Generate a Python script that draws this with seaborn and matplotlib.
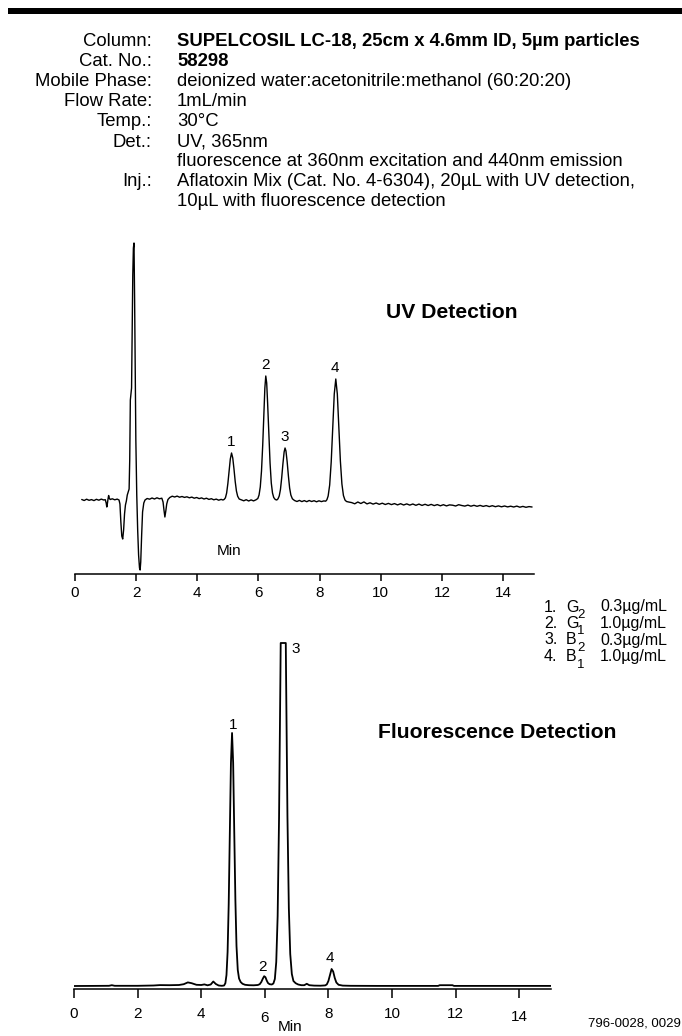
import matplotlib
matplotlib.use("Agg")
import pandas as pd
import matplotlib.pyplot as plt
import seaborn as sns
from matplotlib.patches import Rectangle
from matplotlib.transforms import ScaledTranslation

# ---- data ----
header_labels = ["Column:", "Cat. No.:", "Mobile Phase:", "Flow Rate:", "Temp.:", "Det.:", "", "Inj.:", ""]
header_values = [
    "SUPELCOSIL LC-18, 25cm x 4.6mm ID, 5\u00b5m particles",
    "58298",
    "deionized water:acetonitrile:methanol (60:20:20)",
    "1mL/min",
    "30\u00b0C",
    "UV, 365nm",
    "fluorescence at 360nm excitation and 440nm emission",
    "Aflatoxin Mix (Cat. No. 4-6304), 20\u00b5L with UV detection,",
    "10\u00b5L with fluorescence detection",
]
header_bold = [True, True, False, False, False, False, False, False, False]

# UV trace (min, signal)
uv_trace = [
    (0.22, 0.5), (0.30, -0.5), (0.38, 0.8), (0.46, -0.3), (0.54, 0.4), (0.62, -0.6),
    (0.70, 0.7), (0.78, -0.2), (0.86, 0.9), (0.94, 0.0), (0.99, 0.3),
    (1.02, -3), (1.04, -7), (1.06, -3.5), (1.08, 1), (1.10, 4.5), (1.12, 2), (1.15, 0.5),
    (1.22, 1.2), (1.30, 0.2), (1.38, 0.9), (1.44, 0.0), (1.47, -4), (1.50, -22), (1.53, -36),
    (1.56, -39), (1.59, -30), (1.62, -14), (1.65, -5), (1.68, -1), (1.71, 5), (1.74, 8),
    (1.77, 11), (1.79, 40), (1.81, 100), (1.83, 106), (1.85, 112), (1.87, 170), (1.89, 225),
    (1.91, 252), (1.93, 257), (1.95, 200), (1.97, 130), (1.99, 60), (2.02, 5), (2.05, -30),
    (2.08, -55), (2.11, -68), (2.13, -70), (2.15, -62), (2.18, -35), (2.21, -12), (2.25, -3),
    (2.29, 0), (2.36, 1.5), (2.44, 0.8), (2.52, 2.0), (2.60, 1.0), (2.68, 2.2), (2.76, 1.2),
    (2.84, 1.8), (2.88, -2), (2.91, -10), (2.94, -17), (2.97, -11), (3.00, -4), (3.04, 0.5),
    (3.10, 2.5), (3.18, 3.8), (3.26, 3.0), (3.34, 3.9), (3.42, 2.8), (3.50, 3.5), (3.58, 2.6),
    (3.66, 3.2), (3.74, 2.2), (3.82, 2.9), (3.90, 1.8), (3.98, 2.5), (4.06, 1.4), (4.14, 2.1),
    (4.22, 1.0), (4.30, 1.8), (4.38, 0.6), (4.46, 1.3), (4.54, 0.2), (4.62, 0.9), (4.70, -0.2),
    (4.78, 0.6), (4.84, 0.0),
    (4.88, 0.6), (4.92, 2.2), (4.96, 7), (5.00, 16.5), (5.04, 29), (5.08, 41), (5.12, 47),
    (5.16, 42), (5.20, 31), (5.24, 18.5), (5.28, 9), (5.32, 3.8), (5.37, 1), (5.44, 0.2),
    (5.52, -0.8), (5.60, 0.3), (5.68, -1.0), (5.76, 0.1), (5.84, -0.9), (5.92, 0.2),
    (5.98, 1.5), (6.02, 5), (6.06, 13), (6.10, 29), (6.14, 55), (6.18, 88), (6.21, 112),
    (6.24, 124), (6.27, 117), (6.30, 97), (6.34, 66), (6.38, 37), (6.42, 17), (6.46, 7),
    (6.50, 2.5), (6.55, 0.5), (6.60, 0),
    (6.64, 1.2), (6.68, 4), (6.72, 10.5), (6.76, 22), (6.80, 36), (6.84, 48), (6.87, 52),
    (6.90, 49), (6.94, 38), (6.98, 24), (7.02, 12), (7.06, 5), (7.11, 1.2), (7.18, -0.5),
    (7.26, -1.5), (7.34, -0.4), (7.42, -1.6), (7.50, -0.6), (7.58, -1.7), (7.66, -0.5),
    (7.74, -1.5), (7.82, -0.7), (7.90, -1.8), (7.98, -0.8), (8.06, -1.6), (8.14, -0.9), (8.20, -1.2),
    (8.24, 0.3), (8.28, 4), (8.33, 15), (8.38, 38), (8.43, 72), (8.48, 106), (8.53, 121),
    (8.58, 106), (8.63, 73), (8.68, 39), (8.73, 16), (8.78, 4.5), (8.83, 0), (8.88, -1.5), (8.95, -2),
    (9.05, -2.6), (9.15, -3.8), (9.25, -2.0), (9.35, -3.5), (9.45, -1.9), (9.55, -3.9), (9.65, -2.8),
    (9.75, -4.1), (9.85, -3.0), (9.95, -4.3), (10.05, -3.2), (10.15, -4.5), (10.25, -3.4),
    (10.35, -4.6), (10.45, -3.6), (10.55, -4.9), (10.65, -3.7), (10.75, -5.0), (10.85, -3.9),
    (10.95, -5.1), (11.05, -4.0), (11.15, -5.3), (11.25, -4.1), (11.35, -5.4), (11.45, -4.3),
    (11.55, -5.5), (11.65, -4.4), (11.75, -5.6), (11.85, -4.6), (11.95, -5.8), (12.05, -4.7),
    (12.15, -5.9), (12.25, -4.9), (12.35, -5.2), (12.45, -6.0), (12.55, -4.7), (12.65, -5.5),
    (12.75, -6.1), (12.85, -5.1), (12.95, -6.2), (13.05, -5.3), (13.15, -6.3), (13.25, -5.4),
    (13.35, -6.4), (13.45, -5.6), (13.55, -6.6), (13.65, -5.7), (13.75, -6.7), (13.85, -5.9),
    (13.95, -6.8), (14.05, -6.0), (14.15, -6.9), (14.25, -6.2), (14.35, -7.0), (14.45, -6.1),
    (14.55, -7.2), (14.65, -6.4), (14.75, -7.3), (14.85, -6.6), (14.95, -7.0),
]

# fluorescence trace (min, signal); peak 3 is off scale (flat top)
fl_trace = [
    (0.0, 0), (0.6, 0.1), (1.1, 0.2), (1.19, 0.8), (1.28, 0.2), (2.0, 0.2), (2.5, 0.5),
    (2.7, 0.9), (3.0, 0.8), (3.3, 1.0), (3.45, 1.8), (3.58, 3.6), (3.7, 2.8), (3.85, 1.2),
    (4.0, 1.0), (4.1, 1.6), (4.2, 0.7), (4.3, 1.5), (4.38, 4.5), (4.46, 2.0), (4.55, 0.5),
    (4.65, 0.2),
    (4.72, 0.5), (4.76, 2.8), (4.795, 11), (4.83, 34), (4.865, 82), (4.90, 153), (4.935, 223),
    (4.97, 253), (5.005, 223), (5.04, 153), (5.075, 86), (5.11, 40), (5.15, 16), (5.19, 7.5),
    (5.24, 4), (5.30, 2.2), (5.38, 1.2), (5.5, 0.8), (5.65, 0.7), (5.78, 1.0),
    (5.84, 1.8), (5.89, 4), (5.94, 7.5), (5.98, 9.8), (6.02, 8.8), (6.06, 5.5), (6.10, 3),
    (6.15, 1.8), (6.22, 1.5),
    (6.27, 2.5), (6.316, 7), (6.36, 24), (6.404, 70), (6.448, 168), (6.492, 314), (6.50, 343),
    (6.66, 343), (6.668, 314), (6.712, 170), (6.756, 78), (6.80, 32), (6.85, 12), (6.90, 5),
    (6.97, 2.8), (7.05, 1.5), (7.15, 0.8), (7.24, 0.8), (7.32, 2.2), (7.40, 0.8), (7.55, 0.4),
    (7.75, 0.3),
    (7.90, 0.6), (7.95, 1.6), (8.0, 5), (8.05, 11), (8.10, 17), (8.15, 14.5), (8.20, 8),
    (8.25, 3.5), (8.32, 1.2), (8.45, 0.4), (8.7, 0.2), (9.5, 0.1), (11.45, 0.1), (11.5, 0.8),
    (11.9, 0.8), (11.95, 0.1), (15.0, 0.1),
]

peak_ids = ["1", "2", "3", "4"]
uv_peak_min = [5.12, 6.24, 6.87, 8.53]
uv_peak_height = [47, 124, 52, 121]
fl_peak_min = [4.97, 5.98, 6.58, 8.10]
fl_peak_height = [253, 9.8, 343, 17]

legend_compounds = ["G", "G", "B", "B"]
legend_subscripts = ["2", "1", "2", "1"]
legend_conc = ["0.3\u00b5g/mL", "1.0\u00b5g/mL", "0.3\u00b5g/mL", "1.0\u00b5g/mL"]

x_ticks = [0, 2, 4, 6, 8, 10, 12, 14]

# ---- figure ----
sns.set_style("white")
plt.rcParams["font.family"] = ["Liberation Sans", "DejaVu Sans"]
plt.rcParams["text.color"] = "black"
plt.rcParams["xtick.color"] = "black"
plt.rcParams["xtick.labelcolor"] = "black"
plt.rcParams["axes.labelcolor"] = "black"

W, H = 682, 1036
fig = plt.figure(figsize=(W / 100, H / 100), dpi=100)


def fx(px):
    return px / W


def fy(py):
    return 1 - py / H


fig.add_artist(Rectangle((fx(8), fy(14)), 1 - fx(8), 6 / H, transform=fig.transFigure,
                         facecolor="black", edgecolor="none"))

for i, (lab, val, bold) in enumerate(zip(header_labels, header_values, header_bold)):
    y = fy(42 + 20 * i)
    fig.text(fx(152), y, lab, ha="right", va="center", fontsize=13.3, color="black")
    fig.text(fx(177), y, val, ha="left", va="center", fontsize=13.3, color="black",
             fontweight="bold" if bold else "normal")

uv_df = pd.DataFrame(uv_trace, columns=["min", "signal"])
fl_df = pd.DataFrame(fl_trace, columns=["min", "signal"])


def style_axis(ax, tick_len, pad):
    for s in ["left", "top", "right"]:
        ax.spines[s].set_visible(False)
    ax.spines["bottom"].set_linewidth(1.1)
    ax.spines["bottom"].set_color("black")
    ax.set_xlim(0, 15)
    ax.set_xticks(x_ticks)
    ax.set_yticks([])
    ax.tick_params(axis="x", direction="out", length=tick_len, width=1.1, color="black",
                   labelcolor="black", labelsize=11, pad=pad, bottom=True)
    ax.set_xlabel("")
    ax.set_ylabel("")
    ax.patch.set_alpha(0)


# UV panel
ax1 = fig.add_axes([fx(75), fy(573.5), (533.6 - 75) / W, (573.5 - 240) / H])
sns.lineplot(data=uv_df, x="min", y="signal", ax=ax1, color="black", linewidth=1.0,
             sort=False, estimator=None)
ax1.set_ylim(-73.5, 260)
style_axis(ax1, 5, 4)
for lab, t, h in zip(peak_ids, uv_peak_min, uv_peak_height):
    ax1.annotate(lab, (t, h), xytext=(-0.5, 8), textcoords="offset points",
                 ha="center", va="center", fontsize=11, color="black")
ax1.text((229 - 75) / (533.6 - 75), (573.5 - 550.7) / (573.5 - 240), "Min",
         transform=ax1.transAxes, ha="center", va="center", fontsize=11, color="black")
fig.text(fx(452), fy(312), "UV Detection", ha="center", va="center",
         fontsize=15.2, fontweight="bold", color="black")

# Fluorescence panel
ax2 = fig.add_axes([fx(74), fy(989), (551 - 74) / W, (989 - 600) / H])
sns.lineplot(data=fl_df, x="min", y="signal", ax=ax2, color="black", linewidth=1.3,
             sort=False, estimator=None)
ax2.set_ylim(-3, 386)
style_axis(ax2, 6.5, 6.5)
fl_label_offsets = [(1, 6), (-1.5, 6.5), (9, -4.5), (-1.2, 8)]
for lab, t, h, off in zip(peak_ids, fl_peak_min, fl_peak_height, fl_label_offsets):
    ax2.annotate(lab, (t, h), xytext=off, textcoords="offset points",
                 ha="center", va="center", fontsize=11, color="black")
fig.text(fx(497.5), fy(733), "Fluorescence Detection", ha="center", va="center",
         fontsize=15.2, fontweight="bold", color="black")
fig.text(fx(290), fy(1027), "Min", ha="center", va="center", fontsize=11, color="black")

# compound legend
for i, (c, sub, conc) in enumerate(zip(legend_compounds, legend_subscripts, legend_conc)):
    y = fy(607 + 16.5 * i)
    fig.text(fx(544), y, f"{i + 1}.", ha="left", va="center", fontsize=11.5, color="black")
    fig.text(fx(566), y, c, ha="left", va="center", fontsize=11.5, color="black")
    fig.text(fx(577), y - 8 / H, sub, ha="left", va="center", fontsize=9.5, color="black")
    fig.text(fx(600), y, conc, ha="left", va="center", fontsize=11.5, color="black")

fig.text(fx(681), fy(1024), "796-0028, 0029", ha="right", va="center", fontsize=9.5,
         color="black")

# a couple of bottom tick labels sit lower in the original
fig.canvas.draw()
for lbl in ax2.get_xticklabels():
    if lbl.get_text() in ("6", "14"):
        drop = 4 if lbl.get_text() == "6" else 2.5
        lbl.set_transform(lbl.get_transform() + ScaledTranslation(0, -drop / 100, fig.dpi_scale_trans))

fig.savefig("out.png", dpi=100)
